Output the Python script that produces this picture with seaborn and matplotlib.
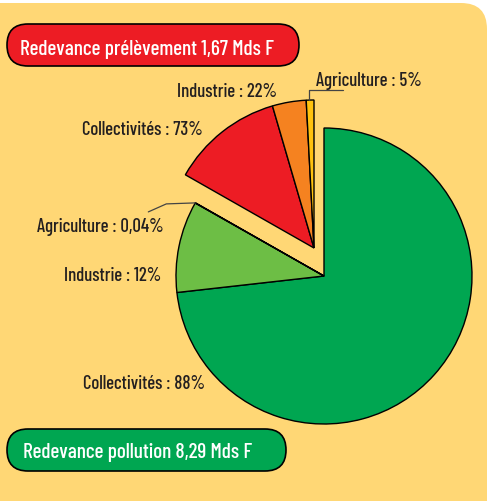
import matplotlib
matplotlib.use("Agg")
import numpy as np
import matplotlib.pyplot as plt
from matplotlib.patches import FancyBboxPatch
import seaborn as sns

# redevances (Mds F) et répartition par usage
total_prelevement = 1.67
total_pollution = 8.29
usages = ['Collectivités', 'Industrie', 'Agriculture']
parts_prelevement = [73, 22, 5]
parts_pollution = [88, 12, 0.04]
labels_prelevement = ['Collectivités : 73%', 'Industrie : 22%', 'Agriculture : 5%']
labels_pollution = ['Collectivités : 88%', 'Industrie : 12%', 'Agriculture : 0,04%']
titre_prelevement = 'Redevance prélèvement 1,67 Mds F'
titre_pollution = 'Redevance pollution 8,29 Mds F'

col_prel = ['#ED1C24', '#F58220', '#FFC20E']
col_poll = ['#00A651', '#6DBE45', '#D7DF23']
fond = '#FFD775'
texte = '#231F20'

sns.set_theme(style="white")
plt.rcParams['font.family'] = ['Barlow Condensed', 'DejaVu Sans']
plt.rcParams['font.weight'] = 500

W, H = 487, 501
fig = plt.figure(figsize=(W / 100, H / 100), dpi=100, facecolor='white')
ax = fig.add_axes([0, 0, 1, 1])

def Y(y):
    return H - y

# fond jaune
ax.add_patch(FancyBboxPatch((-40, -40), W + 40, Y(3) + 40,
                            boxstyle="round,pad=0,rounding_size=26",
                            fc=fond, ec='none', zorder=0))

# valeurs absolues
v_poll = [total_pollution * p / 100 for p in parts_pollution]
v_prel = [total_prelevement * p / 100 for p in parts_prelevement]

wp = dict(edgecolor='black', linewidth=1)
r = 148
c_main = (324, Y(276))
c_prel = (314, Y(248))

w1, _ = ax.pie(v_poll + [total_prelevement], colors=col_poll + ['none'],
               startangle=90, counterclock=False, radius=r, center=c_main,
               wedgeprops=wp, frame=True)
w1[-1].set_visible(False)
w2, _ = ax.pie([total_pollution] + v_prel, colors=['none'] + col_prel,
               startangle=90, counterclock=False, radius=r, center=c_prel,
               wedgeprops=wp, frame=True)
w2[0].set_visible(False)
ax.set_xlim(0, W)
ax.set_ylim(0, H)
ax.set_aspect('equal')
ax.axis('off')

def bord(w):
    # point du bord extérieur au milieu d'un secteur
    t = np.deg2rad((w.theta1 + w.theta2) / 2)
    return w.center[0] + w.r * np.cos(t), w.center[1] + w.r * np.sin(t)

fs = 13.5
lc = '#444444'
# étiquettes prélèvement
ax.text(203, Y(135), labels_prelevement[0], ha='right', va='baseline', fontsize=fs, color=texte)
ax.text(277, Y(97), labels_prelevement[1], ha='right', va='baseline', fontsize=fs, color=texte)
xa, ya = bord(w2[3])
ax.text(xa + 6, ya + 14, labels_prelevement[2], ha='left', va='baseline', fontsize=fs, color=texte)
ax.plot([xa - 1, xa - 1, xa + 33], [ya, ya + 10, ya + 10], color=lc, lw=0.9)

# étiquettes pollution
ax.text(205, Y(389), labels_pollution[0], ha='right', va='baseline', fontsize=fs, color=texte)
ax.text(161, Y(281), labels_pollution[1], ha='right', va='baseline', fontsize=fs, color=texte)
xb, yb = bord(w1[2])
ax.text(xb - 32, yb - 29, labels_pollution[2], ha='right', va='baseline', fontsize=fs, color=texte)
ax.plot([xb, xb - 29, xb - 47], [yb, yb - 1, yb - 9], color=lc, lw=0.9)

# cartouches
def cartouche(x0, y0, x1, y1, couleur, txt, xt, yt):
    ax.add_patch(FancyBboxPatch((x0, Y(y1)), x1 - x0, y1 - y0,
                                boxstyle="round,pad=0,rounding_size=%d" % ((y1 - y0) // 2),
                                fc=couleur, ec='black', lw=1.2, zorder=3))
    ax.text(xt, Y(yt), txt, ha='left', va='baseline', fontsize=15.3,
            color='white', zorder=4)

cartouche(7, 24, 299, 66, col_prel[0], titre_prelevement, 20, 55)
cartouche(7, 429, 286, 471, col_poll[0], titre_pollution, 23, 458)

fig.savefig('out.png', dpi=100, facecolor='white')
